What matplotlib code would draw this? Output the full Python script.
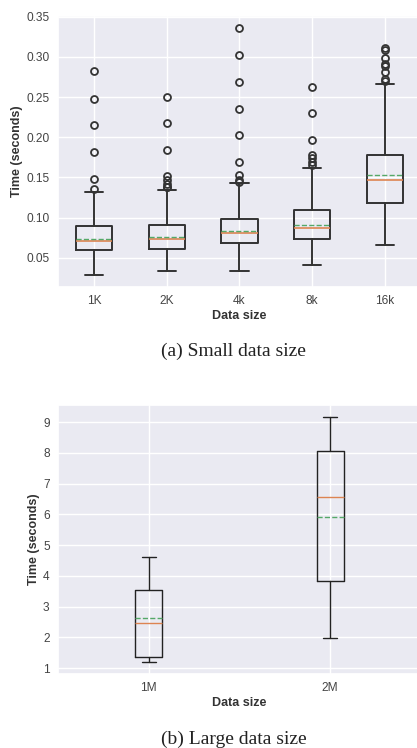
import matplotlib
matplotlib.use('Agg')
import matplotlib.pyplot as plt
import seaborn as sns

sns.set_theme(style='darkgrid')
plt.rcParams['font.family'] = ['Liberation Sans', 'DejaVu Sans']

# small data sizes (seconds)
small_labels = ['1K', '2K', '4k', '8k', '16k']
small_q1 = [0.0595, 0.0612, 0.0678, 0.0727, 0.1186]
small_med = [0.0711, 0.0732, 0.0806, 0.0876, 0.1463]
small_q3 = [0.0889, 0.0905, 0.0980, 0.1091, 0.1781]
small_mean = [0.0739, 0.0764, 0.0831, 0.0913, 0.1525]
small_lo = [0.0289, 0.0339, 0.0330, 0.0410, 0.0658]
small_hi = [0.1322, 0.1343, 0.1430, 0.1612, 0.2666]
small_fliers = [
    [0.2818, 0.2480, 0.2149, 0.1814, 0.1483, 0.1360],
    [0.2504, 0.2178, 0.1843, 0.1520, 0.1467, 0.1414, 0.1384, 0.1375],
    [0.3355, 0.3020, 0.2690, 0.2351, 0.2025, 0.1687, 0.1533, 0.1463, 0.1442],
    [0.2624, 0.2298, 0.1963, 0.1777, 0.1736, 0.1694, 0.1653],
    [0.3107, 0.3087, 0.2988, 0.2905, 0.2890, 0.2806, 0.2728, 0.2700],
]

# large data sizes (seconds)
large_labels = ['1M', '2M']
large_q1 = [1.35, 3.84]
large_med = [2.46, 6.58]
large_q3 = [3.53, 8.06]
large_mean = [2.62, 5.92]
large_lo = [1.21, 1.99]
large_hi = [4.61, 9.16]


def make_stats(labels, q1, med, q3, mean, lo, hi, fliers=None):
    stats = []
    for i in range(len(labels)):
        stats.append(dict(label=labels[i], q1=q1[i], med=med[i], q3=q3[i],
                          mean=mean[i], whislo=lo[i], whishi=hi[i],
                          fliers=fliers[i] if fliers else []))
    return stats


fig = plt.figure(figsize=(4.17, 7.48), dpi=100)

ax1 = fig.add_axes([0.139, 0.6163, 0.8705, 0.3623])
ax2 = fig.add_axes([0.139, 0.0989, 0.8705, 0.3596])

lc1 = '#333333'
ax1.bxp(make_stats(small_labels, small_q1, small_med, small_q3, small_mean,
                   small_lo, small_hi, small_fliers),
        showmeans=True, meanline=True,
        boxprops=dict(color=lc1, linewidth=1.4),
        whiskerprops=dict(color=lc1, linewidth=1.4),
        capprops=dict(color=lc1, linewidth=1.4),
        medianprops=dict(color='#DD8452', linewidth=1.2),
        meanprops=dict(color='#55A868', linestyle='--', linewidth=1.0),
        flierprops=dict(marker='o', markerfacecolor='none',
                        markeredgecolor=lc1, markersize=5, markeredgewidth=1.3))
ax1.set_yticks([0.05, 0.10, 0.15, 0.20, 0.25, 0.30, 0.35])

ax2.bxp(make_stats(large_labels, large_q1, large_med, large_q3, large_mean,
                   large_lo, large_hi),
        showmeans=True, meanline=True,
        boxprops=dict(color='#222222', linewidth=1.0),
        whiskerprops=dict(color='#222222', linewidth=1.0),
        capprops=dict(color='#222222', linewidth=1.0),
        medianprops=dict(color='#DD8452', linewidth=1.0),
        meanprops=dict(color='#55A868', linestyle='--', linewidth=1.0))
ax2.set_yticks(range(1, 10))

for ax in (ax1, ax2):
    ax.tick_params(labelsize=8.6, colors='#444444', length=0, pad=6)
    ax.set_xlabel('Data size', fontsize=9, fontweight='bold', color='#333333',
                  labelpad=2)
    ax.set_ylabel('Time (seconds)', fontsize=9, fontweight='bold',
                  color='#333333', labelpad=2.5)

fig.text(0.56, 1 - 351 / 748, '(a) Small data size', ha='center', va='center',
         fontsize=14, family='Liberation Serif', color='#222222')
fig.text(0.56, 1 - 739 / 748, '(b) Large data size', ha='center', va='center',
         fontsize=14, family='Liberation Serif', color='#222222')

fig.savefig('out.png', dpi=100)
